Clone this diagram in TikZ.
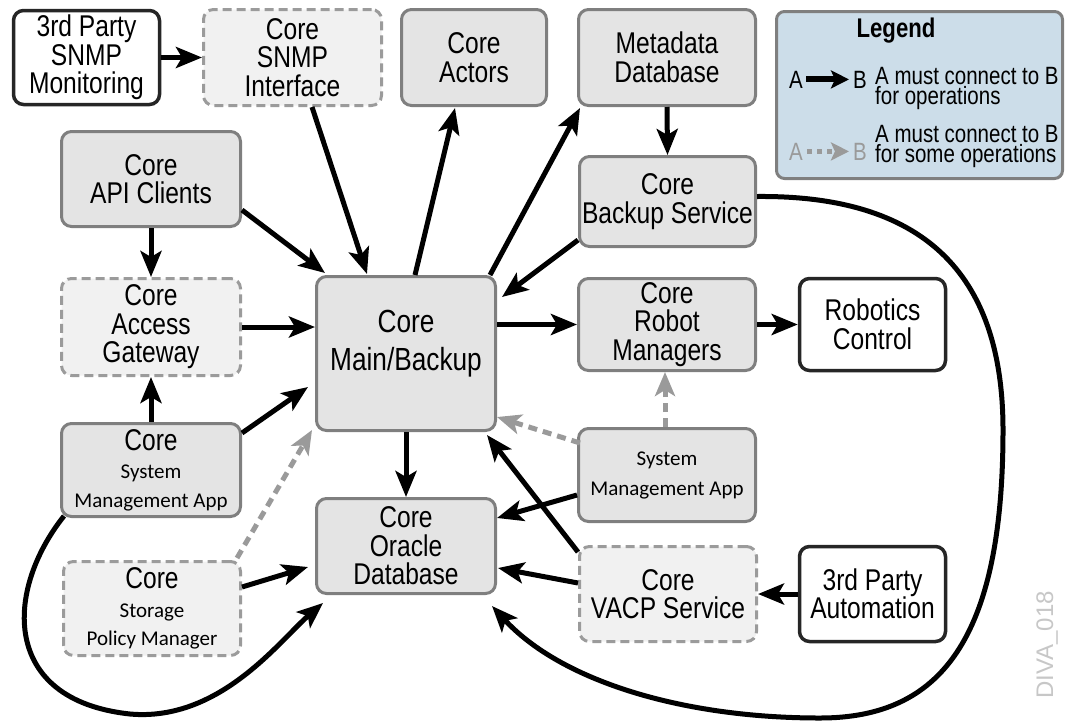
\documentclass[tikz,border=0pt]{standalone}
\usepackage{fontspec}
\usetikzlibrary{arrows.meta,calc}
\newfontfamily\ar[FakeStretch=0.82]{Liberation Sans}
\newfontfamily\arn{Liberation Sans}
\newfontfamily\cb{Carlito}
\newcommand\smtxt[1]{{\cb\fontsize{21}{28.5}\selectfont #1}}
\definecolor{bfill}{HTML}{E4E4E4}
\definecolor{bdraw}{HTML}{7F7F7F}
\definecolor{dfill}{HTML}{F1F1F1}
\definecolor{ddraw}{HTML}{9B9B9B}
\definecolor{lfill}{HTML}{CCDDE9}
\definecolor{lgray}{HTML}{9A9A9A}
\begin{document}
\begin{tikzpicture}[x=1pt,y=-1pt,
  base/.style={rounded corners=10pt, align=center, inner sep=0pt, font=\ar\fontsize{30}{28.5}\selectfont},
  gbox/.style={base, draw=bdraw, fill=bfill, line width=3pt},
  dbox/.style={base, draw=ddraw, fill=dfill, line width=3pt, dash pattern=on 9pt off 5pt},
  wbox/.style={base, draw=black!85, fill=white, line width=3.5pt},
  arr/.style={line width=5pt, -{Stealth[length=26pt,width=21pt,inset=6pt]}},
  garr/.style={line width=5pt, lgray, dash pattern=on 9pt off 6pt, -{Stealth[length=24pt,width=20pt,inset=6pt]}},
  legtxt/.style={inner sep=0pt, font=\ar\fontsize{25}{20.5}\selectfont}
]
\useasboundingbox (0,0) rectangle (1067,721);

% nodes
\node[wbox, minimum width=146, minimum height=94] (snmpmon) at (86.5,57.5) {3rd Party\\SNMP\\Monitoring};
\node[dbox, minimum width=178, minimum height=96] (snmpif) at (292.5,57.5) {Core\\SNMP\\Interface};
\node[gbox, minimum width=145, minimum height=96] (actors) at (474,57.5) {Core\\Actors};
\node[gbox, minimum width=177, minimum height=96] (meta) at (667,57.5) {Metadata\\Database};
\node[gbox, minimum width=179, minimum height=95] (api) at (151,179) {Core\\API Clients};
\node[gbox, minimum width=176, minimum height=90] (backup) at (667.5,201.5) {Core\\Backup Service};
\node[dbox, minimum width=179, minimum height=97] (gateway) at (151,327) {Core\\Access\\Gateway};
\node[gbox, minimum width=179, minimum height=154, text depth=26pt, font=\ar\fontsize{32}{38}\selectfont] (main) at (406,353.5) {Core\\Main/Backup};
\node[gbox, minimum width=177, minimum height=92] (robot) at (667,324.5) {Core\\Robot\\Managers};
\node[wbox, minimum width=146, minimum height=92] (robotics) at (872.5,324.5) {Robotics\\Control};
\node[gbox, minimum width=179, minimum height=93] (sysL) at (151,470) {Core\\\smtxt{System}\\\smtxt{Management App}};
\node[gbox, minimum width=177, minimum height=93, font=\cb\fontsize{21}{30}\selectfont] (sysR) at (667,475) {System\\Management App};
\node[gbox, minimum width=179, minimum height=95] (oracle) at (406,546) {Core\\Oracle\\Database};
\node[dbox, minimum width=177, minimum height=94] (storage) at (152,608.5) {Core\\\smtxt{Storage}\\\smtxt{Policy Manager}};
\node[dbox, minimum width=177, minimum height=95] (vacp) at (668,594) {Core\\VACP Service};
\node[wbox, minimum width=146, minimum height=95] (auto) at (872.5,594) {3rd Party\\Automation};

% connectors
\draw[arr] (snmpmon.east) -- (snmpif.west);
\draw[arr] ($(snmpif.south)+(19.5,0)$) -- ($(main.north)+(-39,-1)$);
\draw[arr] ($(main.north)+(9,0)$) -- ($(actors.south)+(-19,1)$);
\draw[arr] ($(main.north)+(84,0)$) -- ($(meta.south west)+(3,1)$);
\draw[arr] (meta.south) -- (backup.north);
\draw[arr] ($(backup.south west)+(0,-8)$) -- ($(main.north east)+(5,22)$);
\draw[arr] (api.south) -- (gateway.north);
\draw[arr] ($(api.east)+(0,31)$) -- ($(main.north west)+(10,-2)$);
\draw[arr] (gateway.east) -- (gateway.east -| main.west);
\draw[arr] (sysL.north) -- (gateway.south);
\draw[arr] ($(sysL.east)+(0,-37)$) -- ($(main.west)+(-7,33.5)$);
\draw[arr] (main.south) -- (oracle.north);
\draw[arr] (main.east |- robot.west) -- (robot.west);
\draw[arr] (robot.east) -- (robotics.west);
\draw[garr] ($(sysR.north)+(-2,0)$) -- ($(robot.south)+(-2,0)$);
\draw[garr] ($(sysR.north west)+(3,16)$) -- ($(main.south east)+(0,-15)$);
\draw[arr] ($(sysR.west)+(0,20)$) -- ($(oracle.east)+(0,-28)$);
\draw[arr] ($(vacp.north west)+(0,7)$) -- ($(main.south east)+(-10,3)$);
\draw[arr] ($(vacp.west)+(0,-11)$) -- ($(oracle.east)+(1,22)$);
\draw[arr] (auto.west) -- (vacp.east);
\draw[arr] ($(storage.east)+(0,-21.5)$) -- ($(oracle.west)+(-7,21)$);
\draw[garr] ($(storage.north east)+(-5,-2)$) -- ($(main.south west)+(-3,-2)$);
\draw[arr] ($(sysL.south west)+(4,-2)$) .. controls (5,590) and (0,700) .. (130,714)
  .. controls (220,722) and (280,640) .. ($(oracle.south west)+(8,8)$);
\draw[arr] ($(backup.east)+(0,-5)$) .. controls (920,195) and (1003,270) .. (1003,430)
  .. controls (1003,640) and (940,718) .. (820,718)
  .. controls (680,718) and (560,680) .. ($(oracle.south east)+(-5,11)$);

% legend
\node[draw=bdraw, fill=lfill, line width=3pt, rounded corners=8pt, minimum width=286, minimum height=167] (legend) at (919.5,95) {};
\node[anchor=base, inner sep=0pt, font=\ar\bfseries\fontsize{27}{27}\selectfont] (legtitle) at (896,37) {Legend};
\node[legtxt, anchor=base] (la1) at (796,88) {A};
\node[legtxt, anchor=base] (lb1) at (860,88) {B};
\draw[line width=6pt, -{Stealth[length=18pt,width=18pt,inset=4pt]}] ($(la1.east)+(3,0)$) -- ($(lb1.west)+(-4,0)$);
\node[legtxt, anchor=north west, align=left] (lt1) at (875,67) {A must connect to B\\for operations};
\node[legtxt, anchor=base, text=lgray] (la2) at (796,160) {A};
\node[legtxt, anchor=base, text=lgray] (lb2) at (860,160) {B};
\draw[line width=5pt, lgray, dash pattern=on 5pt off 5pt, -{Stealth[length=18pt,width=18pt,inset=4pt]}] ($(la2.east)+(4,0)$) -- ($(lb2.west)+(-4,0)$);
\node[legtxt, anchor=north west, align=left] (lt2) at (875,125) {A must connect to B\\for some operations};

% watermark
\node[rotate=90, inner sep=0pt, text=black!22, font=\arn\fontsize{24}{24}\selectfont] (diva) at (1047,645) {DIVA\_018};
\end{tikzpicture}
\end{document}
